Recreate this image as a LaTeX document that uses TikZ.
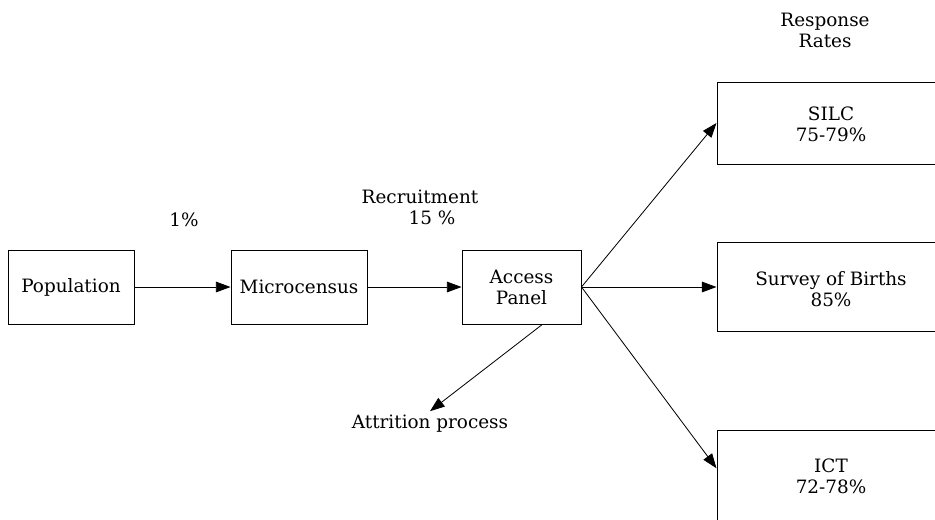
\documentclass[tikz,border=0pt]{standalone}
\usepackage{fontspec}
\setmainfont{DejaVu Serif}
\usepackage{xcolor}
\usetikzlibrary{arrows.meta}

\begin{document}
\begin{tikzpicture}[
  x=0.03cm, y=-0.03cm,
  font=\fontsize{15.7}{18}\selectfont,
  box/.style={
      draw=black,
      line width=0.8pt,
      minimum height=2.22cm,
      align=center
  },
  rbox/.style={
      draw=black,
      line width=0.8pt,
      minimum width=8cm
  },
  txt/.style={align=center},
  arr/.style={-{Triangle[length=0.44cm, width=0.32cm]}, line width=0.7pt}
]
\clip (0,0) rectangle (935,519);

\node[box, minimum width=3.78cm] (pop)    at (71,287)    {Population};
\node[box, minimum width=4.08cm] (micro)  at (299,287)   {Microcensus};
\node[box, minimum width=3.57cm] (access) at (521.5,287) {Access\\Panel};

% response rate boxes, cut off at the right edge
\node[rbox, minimum height=2.46cm] (silc)   at (850.3,123)   {};
\node[rbox, minimum height=2.67cm] (births) at (850.3,287)   {};
\node[rbox, minimum height=4cm]    (ict)    at (850.3,496.7) {};
\node[txt] (silctxt)   at (831,124) {SILC\\75-79\%};
\node[txt] (birthstxt) at (831,289) {Survey of Births\\85\%};
\node[txt] (icttxt)    at (831,476) {ICT\\72-78\%};

\node[txt] (rates)   at (825,30)  {Response\\Rates};
\node[txt] (onepct)  at (184,220) {1\%};
\node[txt] (recruit) at (420,207) {Recruitment\\\hspace*{0.72cm}15 \%};
\node[txt] (attr)    at (430,424) {Attrition process};

\draw[arr] (pop) -- (micro);
\draw[arr] (micro) -- (access);
\draw[arr] (access.east) -- (silc.west);
\draw[arr] (access.east) -- (births.west);
\draw[arr] (access.east) -- (ict.168.7);
\draw[arr] (access.-61) -- (attr.north);

\end{tikzpicture}
\end{document}
